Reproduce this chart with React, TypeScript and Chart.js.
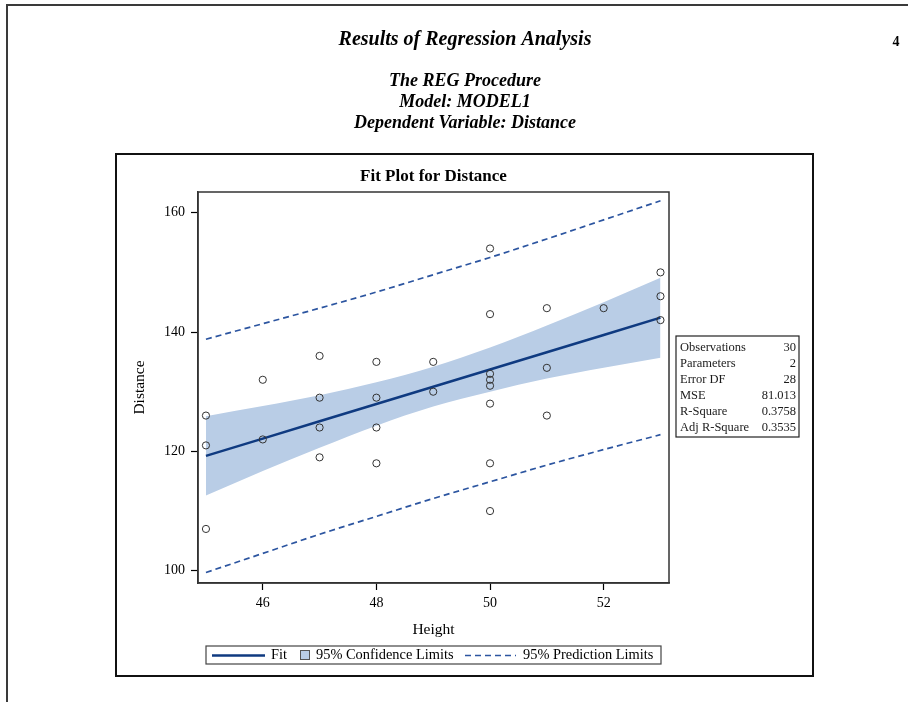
import React, { useEffect, useRef } from 'react';
import { Chart, registerables } from 'chart.js';

Chart.register(...registerables);

// ---- Data ----
const heightObs = [45, 45, 45, 46, 46, 47, 47, 47, 47, 48, 48, 48, 48, 49, 49, 50, 50, 50, 50, 50, 50, 50, 50, 51, 51, 51, 52, 53, 53, 53];
const distanceObs = [126, 121, 107, 132, 122, 136, 129, 124, 119, 135, 129, 124, 118, 135, 130, 154, 143, 133, 132, 131, 128, 118, 110, 144, 134, 126, 144, 150, 146, 142];

const gridHeights = [45, 46, 47, 48, 49, 50, 51, 52, 53];
const fitValues = [119.25, 122.14, 125.04, 127.93, 130.83, 133.72, 136.62, 139.51, 142.41];
const clLower = [112.6, 116.7, 120.6, 124.3, 127.5, 130.0, 132.2, 134.0, 135.7];
const clUpper = [125.9, 127.6, 129.4, 131.6, 134.2, 137.4, 141.1, 145.0, 149.1];
const plLower = [99.7, 102.9, 106.1, 109.1, 112.1, 114.9, 117.7, 120.3, 122.8];
const plUpper = [138.8, 141.4, 144.0, 146.7, 149.6, 152.5, 155.6, 158.8, 162.0];

const xTickValues = [46, 48, 50, 52];
const yTickValues = [100, 120, 140, 160];

const statLabels = ['Observations', 'Parameters', 'Error DF', 'MSE', 'R-Square', 'Adj R-Square'];
const statValues = ['30', '2', '28', '81.013', '0.3758', '0.3535'];

const pageTitle = 'Results of Regression Analysis';
const pageSubtitles = ['The REG Procedure', 'Model: MODEL1', 'Dependent Variable: Distance'];
const pageNumber = '4';
const plotTitle = 'Fit Plot for Distance';
const xAxisTitle = 'Height';
const yAxisTitle = 'Distance';
const legendLabels = ['Fit', '95% Confidence Limits', '95% Prediction Limits'];

// ---- Styles ----
const SERIF = "'Liberation Serif', 'Times New Roman', Times, serif";
const FIT_COLOR = '#0f3a80';
const BAND_COLOR = '#b9cde6';
const PRED_COLOR = '#2c55a0';
const POINT_COLOR = '#333333';

const toPts = (xs: number[], ys: number[]) => xs.map((x, i) => ({ x, y: ys[i] }));

const decorPlugin = {
  id: 'decor',
  beforeDraw(chart: any) {
    const ctx = chart.ctx;
    ctx.save();
    ctx.fillStyle = '#ffffff';
    ctx.fillRect(0, 0, chart.width, chart.height);
    ctx.restore();
  },
  afterDraw(chart: any) {
    const ctx: CanvasRenderingContext2D = chart.ctx;
    const ca = chart.chartArea;
    ctx.save();

    // page border (top + left)
    ctx.strokeStyle = '#3a3a3a';
    ctx.lineWidth = 2;
    ctx.beginPath();
    ctx.moveTo(908, 5);
    ctx.lineTo(7, 5);
    ctx.lineTo(7, 702);
    ctx.stroke();

    // page titles
    ctx.fillStyle = '#000';
    ctx.textAlign = 'center';
    ctx.textBaseline = 'middle';
    ctx.font = `italic bold 20px ${SERIF}`;
    ctx.fillText(pageTitle, 465, 40);
    ctx.font = `italic bold 18px ${SERIF}`;
    pageSubtitles.forEach((s, i) => ctx.fillText(s, 465, 81 + i * 21));
    ctx.font = `bold 14px ${SERIF}`;
    ctx.fillText(pageNumber, 896, 42);

    // graph frame
    ctx.strokeStyle = '#111';
    ctx.lineWidth = 2;
    ctx.strokeRect(116, 154, 697, 522);

    // plot area border
    ctx.strokeStyle = '#333';
    ctx.lineWidth = 1.5;
    ctx.strokeRect(ca.left, ca.top, ca.right - ca.left, ca.bottom - ca.top);

    // plot title
    ctx.fillStyle = '#000';
    ctx.font = `bold 17px ${SERIF}`;
    ctx.textAlign = 'center';
    ctx.fillText(plotTitle, (ca.left + ca.right) / 2, 177);

    // stats box
    ctx.strokeStyle = '#222';
    ctx.lineWidth = 1.2;
    ctx.strokeRect(676, 336, 123, 101);
    ctx.font = `12.5px ${SERIF}`;
    ctx.fillStyle = '#1a1a1a';
    statLabels.forEach((lab, i) => {
      const y = 348 + i * 16;
      ctx.textAlign = 'left';
      ctx.fillText(lab, 680, y);
      ctx.textAlign = 'right';
      ctx.fillText(statValues[i], 796, y);
    });

    // legend
    ctx.strokeStyle = '#444';
    ctx.lineWidth = 1.2;
    ctx.strokeRect(206, 646, 455, 18);
    const ly = 655.5;
    ctx.font = `14.4px ${SERIF}`;
    ctx.fillStyle = '#000';
    ctx.textAlign = 'left';
    // fit
    ctx.strokeStyle = FIT_COLOR;
    ctx.lineWidth = 2.5;
    ctx.beginPath();
    ctx.moveTo(212, ly);
    ctx.lineTo(265, ly);
    ctx.stroke();
    ctx.fillText(legendLabels[0], 271, ly);
    // band square
    ctx.fillStyle = BAND_COLOR;
    ctx.fillRect(300, 650, 9, 10);
    ctx.strokeStyle = '#555';
    ctx.lineWidth = 1;
    ctx.strokeRect(300.5, 650.5, 9, 9);
    ctx.fillStyle = '#000';
    ctx.fillText(legendLabels[1], 316, ly);
    // prediction dashed
    ctx.strokeStyle = PRED_COLOR;
    ctx.lineWidth = 1.6;
    ctx.setLineDash([6, 4]);
    ctx.beginPath();
    ctx.moveTo(465, ly);
    ctx.lineTo(516, ly);
    ctx.stroke();
    ctx.setLineDash([]);
    ctx.fillText(legendLabels[2], 523, ly);

    ctx.restore();
  },
};

export default function App() {
  const ref = useRef<HTMLCanvasElement>(null);

  useEffect(() => {
    const canvas = ref.current;
    if (!canvas) return;
    const chart = new Chart(canvas, {
      type: 'scatter',
      data: {
        datasets: [
          {
            label: 'CL lower',
            data: toPts(gridHeights, clLower),
            showLine: true,
            borderWidth: 0,
            borderColor: 'rgba(0,0,0,0)',
            backgroundColor: BAND_COLOR,
            pointRadius: 0,
            fill: false,
            cubicInterpolationMode: 'monotone',
            order: 4,
          },
          {
            label: legendLabels[1],
            data: toPts(gridHeights, clUpper),
            showLine: true,
            borderWidth: 0,
            borderColor: 'rgba(0,0,0,0)',
            backgroundColor: BAND_COLOR,
            pointRadius: 0,
            fill: 0,
            cubicInterpolationMode: 'monotone',
            order: 3,
          },
          {
            label: 'PL lower',
            data: toPts(gridHeights, plLower),
            showLine: true,
            borderWidth: 1.7,
            borderColor: PRED_COLOR,
            borderDash: [6, 4],
            pointRadius: 0,
            fill: false,
            cubicInterpolationMode: 'monotone',
            order: 2,
          },
          {
            label: legendLabels[2],
            data: toPts(gridHeights, plUpper),
            showLine: true,
            borderWidth: 1.7,
            borderColor: PRED_COLOR,
            borderDash: [6, 4],
            pointRadius: 0,
            fill: false,
            cubicInterpolationMode: 'monotone',
            order: 2,
          },
          {
            label: legendLabels[0],
            data: toPts(gridHeights, fitValues),
            showLine: true,
            borderWidth: 2.5,
            borderColor: FIT_COLOR,
            pointRadius: 0,
            fill: false,
            order: 1,
          },
          {
            label: 'Distance',
            data: toPts(heightObs, distanceObs),
            showLine: false,
            pointStyle: 'circle',
            pointRadius: 3.6,
            pointBorderWidth: 1,
            pointBorderColor: POINT_COLOR,
            pointBackgroundColor: 'rgba(255,255,255,0)',
            borderColor: POINT_COLOR,
            backgroundColor: 'rgba(255,255,255,0)',
            order: 0,
          },
        ],
      },
      options: {
        animation: false,
        responsive: false,
        devicePixelRatio: 1,
        layout: { padding: { left: 128, top: 192, right: 242, bottom: 63 } },
        plugins: {
          legend: { display: false },
          tooltip: { enabled: false },
          title: { display: false },
        },
        scales: {
          x: {
            type: 'linear',
            min: 44.86,
            max: 53.15,
            afterFit: (s: any) => { s.height = 56; },
            afterBuildTicks: (s: any) => { s.ticks = xTickValues.map((v) => ({ value: v })); },
            grid: { display: true, drawOnChartArea: false, drawTicks: true, tickLength: 7, tickColor: '#000', tickWidth: 1.2 },
            border: { display: true, color: '#333', width: 1.5 },
            ticks: { color: '#000', font: { family: SERIF, size: 14 }, padding: 5, maxRotation: 0, callback: (v: any) => String(v) },
            title: { display: true, text: xAxisTitle, color: '#000', font: { family: SERIF, size: 15.5 }, padding: { top: 0, bottom: 0 } },
          },
          y: {
            type: 'linear',
            min: 97.94,
            max: 163.47,
            afterFit: (s: any) => { s.width = 70; },
            afterBuildTicks: (s: any) => { s.ticks = yTickValues.map((v) => ({ value: v })); },
            grid: { display: true, drawOnChartArea: false, drawTicks: true, tickLength: 7, tickColor: '#000', tickWidth: 1.2 },
            border: { display: true, color: '#333', width: 1.5 },
            ticks: { color: '#000', font: { family: SERIF, size: 14 }, padding: 6, callback: (v: any) => String(v) },
            title: { display: true, text: yAxisTitle, color: '#000', font: { family: SERIF, size: 15.5 }, padding: { top: 3, bottom: 0 } },
          },
        },
      },
      plugins: [decorPlugin],
    } as any);
    return () => chart.destroy();
  }, []);

  return (
    <div style={{ position: 'absolute', left: 0, top: 0, width: 911, height: 702, background: '#fff' }}>
      <canvas ref={ref} width={911} height={702} style={{ display: 'block', width: 911, height: 702 }} />
    </div>
  );
}
